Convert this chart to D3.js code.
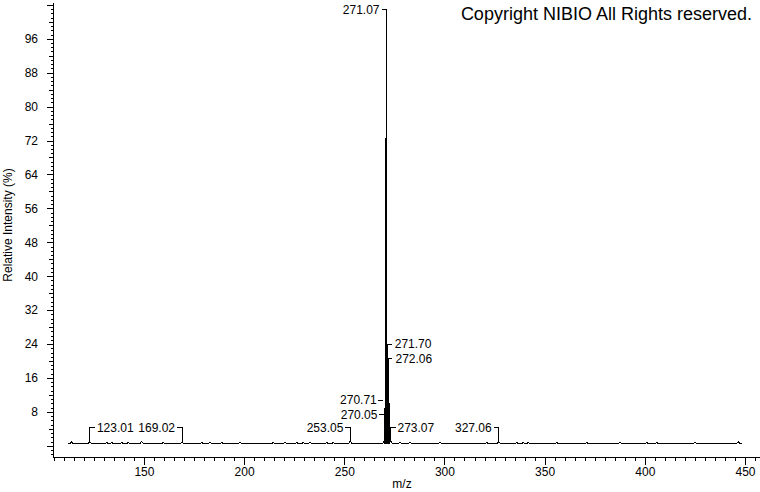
<!DOCTYPE html>
<html>
<head>
<meta charset="utf-8">
<script src="https://cdn.jsdelivr.net/npm/d3@7"></script>
<style>
body { margin: 0; background: #fff; }
text { font-family: "Liberation Sans", Arial, sans-serif; fill: #000; }
</style>
</head>
<body>
<svg id="chart" width="760" height="492"></svg>
<script>
// centroids: m/z and relative intensity (%)
var peakMz  = [113.9, 123.01, 131.4, 133.9, 138.9, 142.2, 148.8, 159.6, 169.02, 178.8, 183.0, 188.8,
               197.9, 214.6, 220.4, 226.2, 229.5, 232.9, 241.2, 244.5, 253.05,
               270.05, 270.55, 270.71, 271.07, 271.70, 272.06, 273.07,
               277.8, 282.8, 297.8, 321.1, 327.06, 336.1, 339.4, 341.9, 356.0, 371.0,
               387.6, 401.0, 406.0, 425.1, 446.7];
var peakInt = [0.9, 1.0, 0.8, 0.8, 0.8, 0.8, 1.0, 0.8, 0.9, 0.8, 0.8, 0.8,
               0.9, 0.8, 0.8, 0.8, 0.8, 0.8, 0.8, 0.8, 1.1,
               1.3, 72.5, 10.7, 100, 24.0, 20.5, 1.4,
               0.8, 0.8, 0.8, 0.8, 1.0, 0.8, 0.8, 0.8, 0.8, 0.8,
               0.9, 0.8, 0.8, 0.9, 0.9];
var baseline = 0.45;
var scanStart = 112, scanEnd = 448.5;

var labelMz    = [123.01, 169.02, 253.05, 270.05, 270.71, 271.07, 271.70, 272.06, 273.07, 327.06];
var labelSide  = ["right", "left", "left", "left", "left", "left", "right", "right", "right", "left"];
var labelStyle = ["bracket", "bracket", "bracket", "bracket", "dash", "bracket", "dash", "dash", "bracket", "bracket"];

var yLabelTicks = d3.range(8, 97, 8);
var xLabelTicks = [150, 200, 250, 300, 350, 400, 450];

var svg = d3.select("#chart");

var x = d3.scaleLinear().domain([104.6, 457.5]).range([53, 760]);
var y = d3.scaleLinear().domain([-2.64, 104.67]).range([457, 2]);

// y axis: minor every 1, medium every 4, major every 8
var yMinor = d3.range(-2, 105, 1).filter(d => d % 4 !== 0);
var yMid = d3.range(0, 105, 4).filter(d => d % 8 !== 0);
var yMaj = d3.range(0, 105, 8);

svg.append("g").attr("transform", "translate(53,0)")
    .call(d3.axisLeft(y).tickValues(yMinor).tickSize(2).tickSizeOuter(0).tickFormat(""));
svg.append("g").attr("transform", "translate(53,0)")
    .call(d3.axisLeft(y).tickValues(yMid).tickSize(4).tickSizeOuter(0).tickFormat(""));
svg.append("g").attr("transform", "translate(53,0)")
    .call(d3.axisLeft(y).tickValues(yMaj).tickSize(6).tickSizeOuter(0).tickPadding(9)
        .tickFormat(d => yLabelTicks.includes(d) ? d : ""));

// x axis: minor every 5, labelled every 50
var xMinor = d3.range(105, 458, 5).filter(d => d % 50 !== 0);
svg.append("g").attr("transform", "translate(0,457)")
    .call(d3.axisBottom(x).tickValues(xMinor).tickSize(4).tickSizeOuter(0).tickFormat(""));
svg.append("g").attr("transform", "translate(0,457)")
    .call(d3.axisBottom(x).tickValues(xLabelTicks).tickSize(8).tickSizeOuter(0).tickPadding(2));

svg.selectAll(".tick text").style("font-size", "12px").style("font-family", '"Liberation Sans", Arial, sans-serif');
svg.selectAll(".domain, .tick line").attr("stroke", "#000").attr("shape-rendering", "crispEdges");

// spectrum trace: each peak rises from and falls back to the baseline
var peaks = peakMz.map((m, i) => ({mz: m, h: peakInt[i]})).sort((a, b) => a.mz - b.mz);
var w = 1.0;
var pts = [[scanStart, baseline]];
peaks.forEach(function(p, i) {
    var prev = peaks[i - 1], next = peaks[i + 1];
    var lw = prev ? Math.min(w, (p.mz - prev.mz) / 2) : w;
    var rw = next ? Math.min(w, (next.mz - p.mz) / 2) : w;
    pts.push([p.mz - lw, baseline]);
    pts.push([p.mz, p.h]);
    pts.push([p.mz + rw, baseline]);
});
pts.push([scanEnd, baseline]);

svg.append("path")
    .datum(pts)
    .attr("fill", "none")
    .attr("stroke", "#000")
    .attr("stroke-width", 1)
    .attr("shape-rendering", "crispEdges")
    .attr("d", d3.line().x(d => x(d[0])).y(d => y(d[1])));

// peak labels
var lab = svg.append("g").attr("class", "labels");
var placed = [];
labelMz.forEach(function(m, i) {
    var h = peaks.find(p => p.mz === m).h;
    var px = x(m), py = y(h);
    var side = labelSide[i], style = labelStyle[i];
    var ly = style === "dash" ? py : Math.min(py - 12, y(4.2));
    var tx = side === "left" ? (style === "dash" ? px - 9 : px - 7) : px + 7;
    var t = lab.append("text")
        .attr("x", tx)
        .attr("y", ly + 4)
        .attr("text-anchor", side === "left" ? "end" : "start")
        .style("font-size", "12px")
        .text(m.toFixed(2));
    var bb = t.node().getBBox();
    while (placed.some(b => b.x0 < bb.x + bb.width && bb.x < b.x1 && Math.abs(b.ly - ly) < 13)) {
        ly -= 13;
        t.attr("y", ly + 4);
    }
    placed.push({x0: bb.x, x1: bb.x + bb.width, ly: ly});

    var d;
    if (style === "dash") {
        d = side === "left" ? `M${px - 8},${ly}H${px - 3}` : `M${px - 1},${ly}H${px + 4}`;
    } else {
        d = side === "left" ? `M${px - 5},${ly}H${px}V${py}` : `M${px + 5},${ly}H${px}V${py}`;
    }
    lab.append("path")
        .attr("d", d)
        .attr("fill", "none")
        .attr("stroke", "#000")
        .attr("shape-rendering", "crispEdges");
});

// titles
svg.append("text")
    .attr("transform", "translate(12,225) rotate(-90)")
    .attr("text-anchor", "middle")
    .style("font-size", "12px")
    .text("Relative Intensity (%)");

svg.append("text")
    .attr("x", 402)
    .attr("y", 488)
    .attr("text-anchor", "middle")
    .style("font-size", "12px")
    .text("m/z");

svg.append("text")
    .attr("x", 752)
    .attr("y", 20)
    .attr("text-anchor", "end")
    .style("font-size", "18px")
    .text("Copyright NIBIO All Rights reserved.");
</script>
</body>
</html>
